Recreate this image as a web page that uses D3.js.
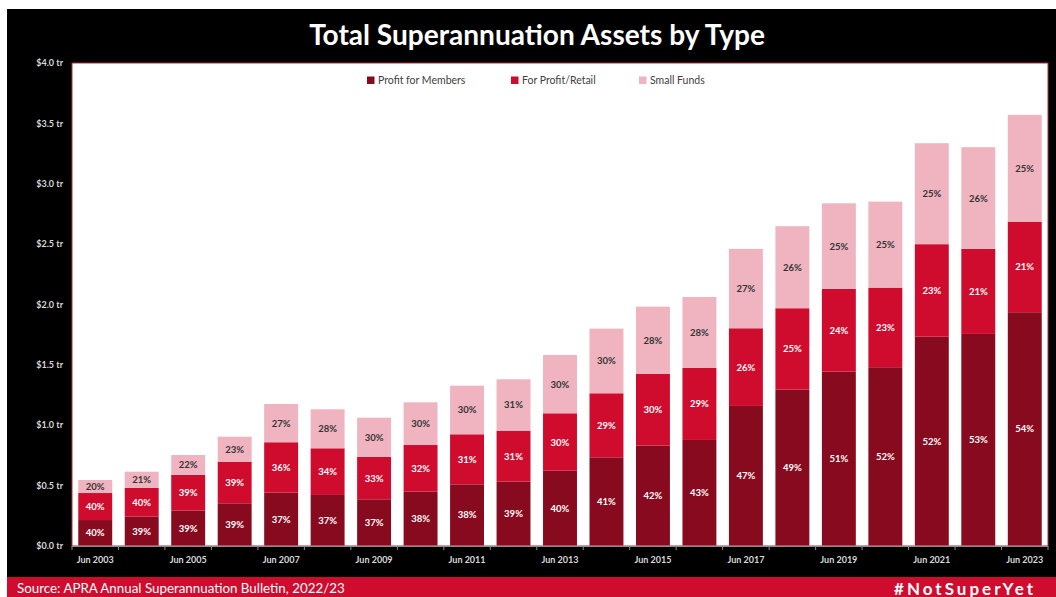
<!DOCTYPE html>
<html><head><meta charset="utf-8">
<script src="https://cdn.jsdelivr.net/npm/d3@7"></script>
<style>body{margin:0;background:#fff}svg{display:block}</style>
</head><body>
<svg id="c" width="1056" height="597"></svg>
<script>
const categories = ["Jun 2003","Jun 2004","Jun 2005","Jun 2006","Jun 2007","Jun 2008","Jun 2009","Jun 2010","Jun 2011","Jun 2012","Jun 2013","Jun 2014","Jun 2015","Jun 2016","Jun 2017","Jun 2018","Jun 2019","Jun 2020","Jun 2021","Jun 2022","Jun 2023"];
const tickLabels = ["Jun 2003","Jun 2005","Jun 2007","Jun 2009","Jun 2011","Jun 2013","Jun 2015","Jun 2017","Jun 2019","Jun 2021","Jun 2023"];
const seriesNames = ["Profit for Members","For Profit/Retail","Small Funds"];
// values in $ trillion
const members = [0.211,0.239,0.289,0.350,0.438,0.419,0.383,0.446,0.507,0.529,0.620,0.731,0.828,0.875,1.157,1.292,1.441,1.478,1.731,1.754,1.934];
const retail  = [0.224,0.240,0.296,0.345,0.418,0.387,0.353,0.387,0.415,0.423,0.476,0.531,0.594,0.599,0.644,0.675,0.686,0.660,0.767,0.705,0.751];
const small   = [0.108,0.133,0.165,0.207,0.317,0.323,0.324,0.354,0.403,0.426,0.484,0.536,0.558,0.586,0.658,0.680,0.710,0.713,0.837,0.843,0.885];
// percentage labels as printed
const membersPct = [40,39,39,39,37,37,37,38,38,39,40,41,42,43,47,49,51,52,52,53,54];
const retailPct  = [40,40,39,39,36,34,33,32,31,31,30,29,30,29,26,25,24,23,23,21,21];
const smallPct   = [20,21,22,23,27,28,30,30,30,31,30,30,28,28,27,26,25,25,25,26,25];
const yTicks = [0,0.5,1,1.5,2,2.5,3,3.5,4];

const colors = ["#870a1f","#cf0c2e","#efb4c0"];
const labelColors = ["#ffffff","#ffffff","#333333"];
const FONT = "Lato, 'Open Sans', sans-serif";

const svg = d3.select("#c");
const W = 1056, H = 597;
// panels
svg.append("rect").attr("x",7).attr("y",9).attr("width",W-7).attr("height",568).attr("fill","#000");
svg.append("rect").attr("x",7).attr("y",577).attr("width",W-7).attr("height",20).attr("fill","#cf0c2e");

function fit(sel, target){
  const n = sel.node(); const fs = parseFloat(sel.attr("font-size"));
  const w = n.getComputedTextLength();
  sel.attr("font-size", fs*target/w);
}

// title
const title = svg.append("text").attr("x",537).attr("y",45).attr("text-anchor","middle")
  .attr("fill","#fff").attr("font-family",FONT).attr("font-weight",700).attr("font-size",26)
  .text("Total Superannuation Assets by Type");
fit(title, 456);

const L = 72, R = 1048, T = 63, B = 546;
svg.append("rect").attr("x",L).attr("y",T).attr("width",R-L).attr("height",B-T)
  .attr("fill","#fff").attr("stroke","#a8323f").attr("stroke-width",1);

const x = d3.scaleBand().domain(categories).range([L,R]).paddingInner(0.27).paddingOuter(0.135);
const y = d3.scaleLinear().domain([0,4]).range([545.5,T]);

const rows = categories.map((c,i)=>({cat:c, m:members[i], r:retail[i], s:small[i], pm:membersPct[i], pr:retailPct[i], ps:smallPct[i]}));
const keys = ["m","r","s"], pkeys = ["pm","pr","ps"];
const stack = d3.stack().keys(keys)(rows);

const g = svg.append("g");
stack.forEach((layer,li)=>{
  g.append("g").selectAll("rect").data(layer).join("rect")
    .attr("x",d=>x(d.data.cat)).attr("width",x.bandwidth())
    .attr("y",d=>y(d[1])).attr("height",d=>y(d[0])-y(d[1]))
    .attr("fill",colors[li]);
  g.append("g").selectAll("text").data(layer).join("text")
    .attr("x",d=>x(d.data.cat)+x.bandwidth()/2)
    .attr("y",d=>(y(d[0])+y(d[1]))/2+3.5)
    .attr("text-anchor","middle").attr("font-family",FONT).attr("font-weight",700)
    .attr("font-size",9.5).attr("fill",labelColors[li])
    .text(d=>d.data[pkeys[li]]+"%");
});

// y axis
const ya = svg.append("g").attr("transform",`translate(${L},0)`)
  .call(d3.axisLeft(y).tickValues(yTicks).tickFormat(d=>"$"+d.toFixed(1)+" tr").tickSize(0).tickPadding(9));
ya.select(".domain").remove();
ya.selectAll("text").attr("font-family",FONT).attr("font-weight",700).attr("font-size",9).attr("fill","#d8d8d8");

// x axis
const xa = svg.append("g").attr("transform",`translate(0,${B})`)
  .call(d3.axisBottom(x).tickValues(tickLabels).tickSize(0).tickPadding(11));
xa.select(".domain").attr("stroke","#8c8c8c").attr("d",`M${L},0.5H${R}`);
xa.selectAll("text").attr("font-family",FONT).attr("font-weight",700).attr("font-size",9).attr("fill","#d8d8d8");
const step = x.step();
const bounds = categories.map(c=>x(c)-step*x.paddingInner()/2).concat([R]);
bounds[0] = L;
xa.selectAll("line.bt").data(bounds).join("line").attr("class","bt")
  .attr("x1",d=>d).attr("x2",d=>d).attr("y1",0).attr("y2",4).attr("stroke","#8c8c8c");

// legend
const legX = [367,511,639];
const lg = svg.append("g");
seriesNames.forEach((n,i)=>{
  lg.append("rect").attr("x",legX[i]).attr("y",76.5).attr("width",7.5).attr("height",7.5).attr("fill",colors[i]);
  lg.append("text").attr("x",legX[i]+11).attr("y",84).attr("font-family",FONT).attr("font-size",10.5)
    .attr("fill","#404040").text(n);
});

// footer
const src = svg.append("text").attr("x",17).attr("y",593).attr("fill","#fff").attr("font-family",FONT)
  .attr("font-size",13).text("Source: APRA Annual Superannuation Bulletin, 2022/23");
fit(src, 328);
svg.append("text").attr("x",1036).attr("y",594.5).attr("text-anchor","end").attr("fill","#fff")
  .attr("font-family",FONT).attr("font-weight",700).attr("font-size",17).attr("letter-spacing",3)
  .text("#NotSuperYet");
</script>
</body></html>
